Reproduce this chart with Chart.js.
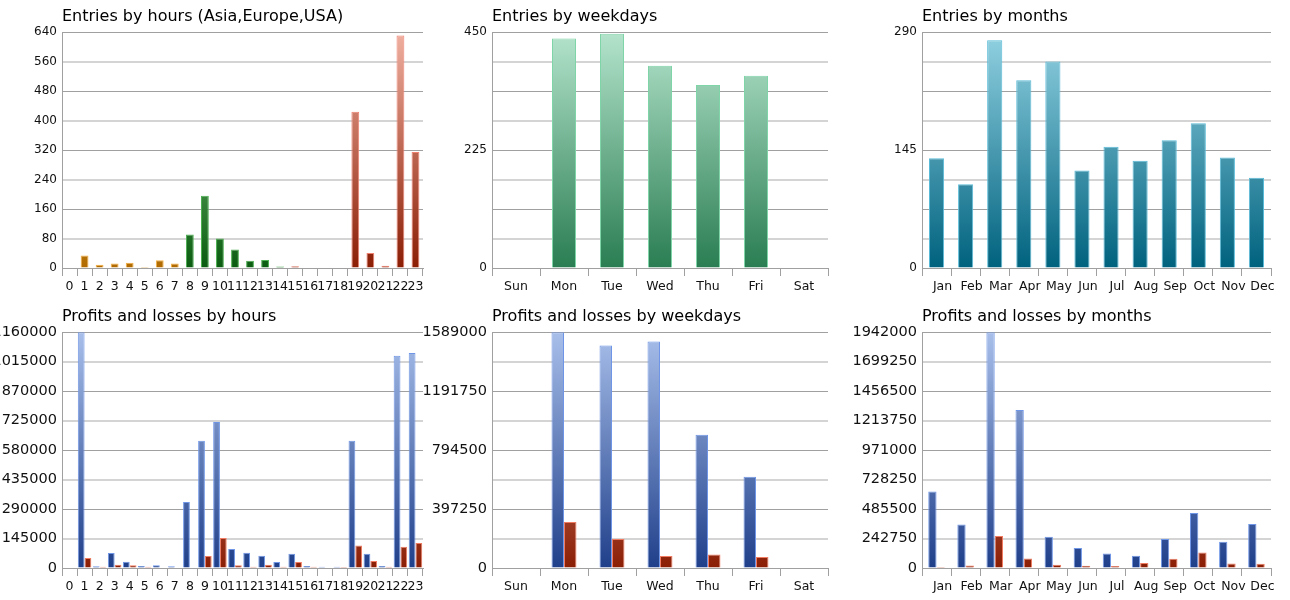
<!DOCTYPE html>
<html>
<head>
<meta charset="utf-8">
<title>Entries, profits and losses</title>
<script src="https://cdn.jsdelivr.net/npm/chart.js@4.4.1/dist/chart.umd.min.js"></script>
<style>
    html, body { margin: 0; padding: 0; background: #fff; }
    #board { position: relative; width: 1290px; height: 600px; overflow: hidden; }
    #board canvas { position: absolute; }
</style>
</head>
<body>
<div id="board"></div>
<script>
const hourLabels = ["0", "1", "2", "3", "4", "5", "6", "7", "8", "9", "10", "11", "12", "13", "14", "15", "16", "17", "18", "19", "20", "21", "22", "23"]
const hourRegions = ["asia", "asia", "asia", "asia", "asia", "asia", "asia", "asia",
    "europe", "europe", "europe", "europe", "europe", "europe", "europe",
    "usa", "usa", "usa", "usa", "usa", "usa", "usa", "usa", "usa"]
const hourEntries = [0, 34, 9, 12, 14, 3, 21, 12, 91, 196, 80, 50, 20, 22, 4, 5, 0, 0, 0, 424, 41, 6, 631, 315]

const weekdayLabels = ["Sun", "Mon", "Tue", "Wed", "Thu", "Fri", "Sat"]
const weekdayEntries = [0, 438, 447, 386, 349, 367, 0]

const monthLabels = ["Jan", "Feb", "Mar", "Apr", "May", "Jun", "Jul", "Aug", "Sep", "Oct", "Nov", "Dec"]
const monthEntries = [135, 103, 280, 231, 254, 120, 149, 132, 157, 178, 136, 111]

const hourProfits = [0, 1160000, 8000, 74000, 31000, 10000, 13000, 8000, 325000, 626000, 718000, 93500,
    75000, 60500, 29500, 70300, 10000, 6000, 6000, 626000, 70000, 10000, 1044000, 1057600]
const hourLosses = [0, 49000, 6000, 16000, 13000, 6000, 3000, 3000, 3000, 59000, 147600, 13000,
    6000, 16000, 6000, 29500, 6000, 0, 5000, 111000, 34400, 6000, 104800, 123000]

const weekdayProfits = [0, 1589000, 1500000, 1527000, 898000, 615000, 0]
const weekdayLosses = [0, 310000, 195400, 80900, 91600, 74100, 0]

const monthProfits = [631000, 359000, 1942000, 1301000, 258000, 165000, 120000, 101000, 239000, 453000, 216600, 362000]
const monthLosses = [8000, 21000, 263500, 79000, 27000, 19000, 16000, 41000, 76600, 128500, 38000, 35400]

const FONT = "'DejaVu Sans', sans-serif"

const COLORS = {
    asia: { bottom: "#b06a00", top: "#ffd27a", border: "#f7b040" },
    europe: { bottom: "#0a5c10", top: "#9ee29e", border: "#4caf50" },
    usa: { bottom: "#8a1e05", top: "#f0b0a0", border: "#f08070" },
    weekdays: { bottom: "#2a7d52", top: "#b4e4cc", border: "#7fd4a8" },
    months: { bottom: "#00627e", top: "#92d2e2", border: "#5bbcd9" },
    profit: { bottom: "#1f3f8a", top: "#a8bfea", border: "#6f96e6" },
    loss: { bottom: "#8a1e05", top: "#f0b0a0", border: "#f07b60" },
}

function makeGradient(chart, colors) {
    const area = chart.chartArea
    if (!area) return colors.bottom
    const g = chart.ctx.createLinearGradient(0, area.bottom, 0, area.top)
    g.addColorStop(0, colors.bottom)
    g.addColorStop(1, colors.top)
    return g
}

function fillOf(colors) {
    return (context) => makeGradient(context.chart, colors)
}

function makeCanvas(col, row) {
    const canvas = document.createElement("canvas")
    canvas.width = 470
    canvas.height = 300
    canvas.style.left = (col * 430 - 40) + "px"
    canvas.style.top = (row * 300) + "px"
    document.getElementById("board").appendChild(canvas)
    return canvas.getContext("2d")
}

function drawBarChart(p) {
    const ctx = makeCanvas(p.col, p.row)
    new Chart(ctx, {
        type: "bar",
        data: { labels: p.labels, datasets: p.datasets },
        options: {
            responsive: false,
            animation: false,
            devicePixelRatio: 1,
            layout: { padding: { left: 0, right: p.padRight, top: 0, bottom: 3 } },
            plugins: {
                legend: { display: false },
                tooltip: { enabled: false },
                title: {
                    display: true,
                    text: p.title,
                    align: "start",
                    fullSize: false,
                    color: "#000",
                    font: { family: FONT, size: 16, weight: "normal" },
                    padding: { top: 7, bottom: 6 }
                }
            },
            scales: {
                x: {
                    grid: { offset: true, drawOnChartArea: false, tickLength: 8, color: "#a0a0a0" },
                    border: { color: "#a0a0a0" },
                    ticks: {
                        autoSkip: false,
                        maxRotation: 0,
                        minRotation: 0,
                        padding: 3,
                        labelOffset: p.labelOffset || 0,
                        color: "#111",
                        font: { family: FONT, size: 12.5 }
                    }
                },
                y: {
                    min: 0,
                    max: p.max,
                    afterFit(scale) { scale.width = 102 },
                    grid: {
                        drawTicks: false,
                        color: (c) => c.index % 2 === 0 ? "#a0a0a0" : "#d4d4d4",
                        lineWidth: (c) => c.index % 2 === 0 ? 1 : 2
                    },
                    border: { color: "#a0a0a0" },
                    ticks: {
                        stepSize: p.max / 8,
                        padding: 5,
                        color: "#111",
                        font: { family: FONT, size: p.yFontSize },
                        callback: (value, index) => index % p.labelEvery === 0 ? String(value) : ""
                    }
                }
            }
        }
    })
}

function profitLossSets(profits, losses, catPct) {
    return [
        { data: profits, backgroundColor: fillOf(COLORS.profit), borderColor: COLORS.profit.border, borderWidth: 1, categoryPercentage: catPct, barPercentage: 1 },
        { data: losses, backgroundColor: fillOf(COLORS.loss), borderColor: COLORS.loss.border, borderWidth: 1, categoryPercentage: catPct, barPercentage: 1 }
    ]
}

function init() {
    drawBarChart({
        col: 0, row: 0, title: "Entries by hours (Asia,Europe,USA)",
        labels: hourLabels, max: 640, labelEvery: 1, yFontSize: 12, padRight: 7,
        datasets: [{
            data: hourEntries,
            backgroundColor: (c) => makeGradient(c.chart, COLORS[hourRegions[c.dataIndex]]),
            borderColor: (c) => COLORS[hourRegions[c.dataIndex]].border,
            borderWidth: 1, categoryPercentage: 0.52, barPercentage: 1
        }]
    })
    drawBarChart({
        col: 1, row: 0, title: "Entries by weekdays",
        labels: weekdayLabels, max: 450, labelEvery: 4, yFontSize: 12, padRight: 32,
        datasets: [{
            data: weekdayEntries, backgroundColor: fillOf(COLORS.weekdays), borderColor: COLORS.weekdays.border,
            borderWidth: 1, categoryPercentage: 0.5, barPercentage: 1
        }]
    })
    drawBarChart({
        col: 2, row: 0, title: "Entries by months",
        labels: monthLabels, max: 290, labelEvery: 4, yFontSize: 12, padRight: 19, labelOffset: 6,
        datasets: [{
            data: monthEntries, backgroundColor: fillOf(COLORS.months), borderColor: COLORS.months.border,
            borderWidth: 1, categoryPercentage: 0.52, barPercentage: 1
        }]
    })
    drawBarChart({
        col: 0, row: 1, title: "Profits and losses by hours",
        labels: hourLabels, max: 1160000, labelEvery: 1, yFontSize: 14.5, padRight: 7,
        datasets: profitLossSets(hourProfits, hourLosses, 0.9)
    })
    drawBarChart({
        col: 1, row: 1, title: "Profits and losses by weekdays",
        labels: weekdayLabels, max: 1589000, labelEvery: 2, yFontSize: 14.5, padRight: 32,
        datasets: profitLossSets(weekdayProfits, weekdayLosses, 0.52)
    })
    drawBarChart({
        col: 2, row: 1, title: "Profits and losses by months",
        labels: monthLabels, max: 1942000, labelEvery: 1, yFontSize: 14.5, padRight: 19, labelOffset: 6,
        datasets: profitLossSets(monthProfits, monthLosses, 0.57)
    })
}

init()
</script>
</body>
</html>
